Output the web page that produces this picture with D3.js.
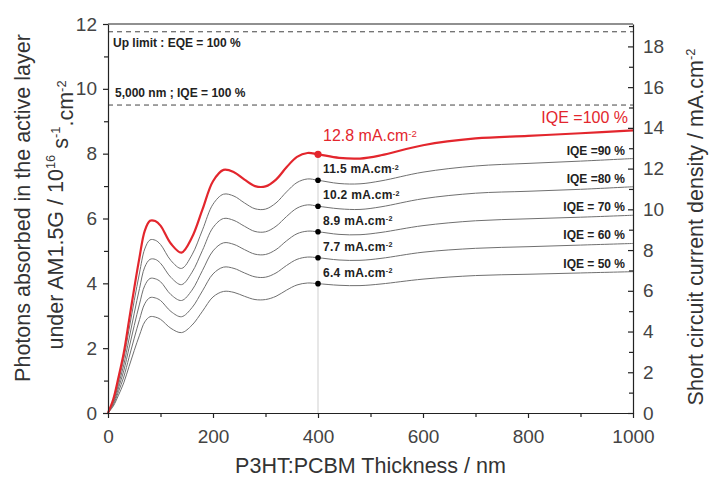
<!DOCTYPE html>
<html>
<head>
<meta charset="utf-8">
<script src="https://cdnjs.cloudflare.com/ajax/libs/d3/7.8.5/d3.min.js"></script>
<style>
body { margin: 0; background: #fff; }
text { font-family: "Liberation Sans", Arial, sans-serif; }
</style>
</head>
<body>
<div id="chart"></div>
<script>
// thickness in nm, photons absorbed in 1e16 s-1 cm-2
var thickness = [0, 10, 20, 30, 40, 50, 60, 70, 80, 90, 100, 120, 140, 160, 180, 200, 220, 240, 260, 280, 300, 320, 340, 360, 380, 400, 440, 480, 520, 600, 700, 800, 900, 1000];
var iqe100 = [0, 0.42, 1.1, 1.85, 2.85, 3.85, 4.8, 5.62, 5.93, 5.92, 5.78, 5.22, 4.95, 5.42, 6.28, 7.15, 7.5, 7.43, 7.2, 7.0, 6.99, 7.2, 7.58, 7.9, 8.02, 7.98, 7.87, 7.85, 7.95, 8.26, 8.47, 8.55, 8.63, 8.72];
var iqe90 = [0, 0.38, 0.99, 1.67, 2.57, 3.47, 4.32, 5.06, 5.34, 5.33, 5.2, 4.7, 4.46, 4.88, 5.65, 6.44, 6.75, 6.69, 6.48, 6.3, 6.29, 6.48, 6.82, 7.11, 7.22, 7.18, 7.08, 7.07, 7.16, 7.43, 7.62, 7.7, 7.77, 7.85];
var iqe80 = [0, 0.34, 0.88, 1.48, 2.28, 3.08, 3.84, 4.5, 4.74, 4.74, 4.62, 4.18, 3.96, 4.34, 5.02, 5.72, 6.0, 5.94, 5.76, 5.6, 5.59, 5.76, 6.06, 6.32, 6.42, 6.38, 6.3, 6.28, 6.36, 6.61, 6.78, 6.84, 6.9, 6.98];
var iqe70 = [0, 0.29, 0.77, 1.3, 2.0, 2.7, 3.36, 3.93, 4.15, 4.14, 4.05, 3.65, 3.47, 3.79, 4.4, 5.0, 5.25, 5.2, 5.04, 4.9, 4.89, 5.04, 5.31, 5.53, 5.61, 5.59, 5.51, 5.5, 5.57, 5.78, 5.93, 5.99, 6.04, 6.1];
var iqe60 = [0, 0.25, 0.66, 1.11, 1.71, 2.31, 2.88, 3.37, 3.56, 3.55, 3.47, 3.13, 2.97, 3.25, 3.77, 4.29, 4.5, 4.46, 4.32, 4.2, 4.19, 4.32, 4.55, 4.74, 4.81, 4.79, 4.72, 4.71, 4.77, 4.96, 5.08, 5.13, 5.18, 5.23];
var iqe50 = [0, 0.21, 0.55, 0.93, 1.43, 1.93, 2.4, 2.81, 2.97, 2.96, 2.89, 2.61, 2.48, 2.71, 3.14, 3.58, 3.75, 3.72, 3.6, 3.5, 3.5, 3.6, 3.79, 3.95, 4.01, 3.99, 3.94, 3.93, 3.98, 4.13, 4.24, 4.28, 4.32, 4.36];

var jscLabels = ["12.8", "11.5", "10.2", "8.9", "7.7", "6.4"];
var iqeLabels = ["IQE =100 %", "IQE =90 %", "IQE =80 %", "IQE = 70 %", "IQE = 60 %", "IQE = 50 %"];
var limitValues = [11.76, 9.5];
var limitLabels = ["Up limit : EQE = 100 %", "5,000 nm ; IQE = 100 %"];
var markThickness = 400;

var xTicks = [0, 200, 400, 600, 800, 1000];
var xMinor = [100, 300, 500, 700, 900];
var yTicks = [0, 2, 4, 6, 8, 10, 12];
var yMinor = [1, 3, 5, 7, 9, 11];
var y2Ticks = [0, 2, 4, 6, 8, 10, 12, 14, 16, 18];
var y2Minor = [1, 3, 5, 7, 9, 11, 13, 15, 17, 19];

(function() {
  var width = 709, height = 480;
  var mLeft = 108, mRight = 633, mTop = 24, mBottom = 413;
  var red = "#e3262d", gray = "#707070", ink = "#333";

  var svg = d3.select("#chart").append("svg")
    .attr("width", width).attr("height", height);

  var x = d3.scaleLinear().domain([0, 1000]).range([mLeft, mRight]);
  var y = d3.scaleLinear().domain([0, 12]).range([mBottom, mTop]);
  var y2 = d3.scaleLinear().domain([0, 19.1]).range([mBottom, mTop]);

  var series = [iqe100, iqe90, iqe80, iqe70, iqe60, iqe50];
  var mi = thickness.indexOf(markThickness);

  var line = d3.line()
    .x(function(d, i) { return x(thickness[i]); })
    .y(function(d) { return y(d); })
    .curve(d3.curveCatmullRom.alpha(0.5));

  // thin guide at 400 nm
  svg.append("line")
    .attr("x1", x(markThickness)).attr("x2", x(markThickness))
    .attr("y1", y(0)).attr("y2", y(iqe100[mi]))
    .attr("stroke", "#cfcfcf").attr("stroke-width", 1);

  // dashed limits
  svg.selectAll(".limit").data(limitValues).enter().append("line")
    .attr("class", "limit")
    .attr("x1", x(0)).attr("x2", x(1000))
    .attr("y1", function(d) { return y(d); }).attr("y2", function(d) { return y(d); })
    .attr("stroke", "#444").attr("stroke-width", 1).attr("stroke-dasharray", "5,4");

  svg.selectAll(".limitLabel").data(limitLabels).enter().append("text")
    .attr("x", function(d, i) { return x(0) + (i == 0 ? 5 : 7); })
    .attr("y", function(d, i) { return i == 0 ? y(limitValues[0]) + 15 : y(limitValues[1]) - 8; })
    .attr("font-size", 12).attr("font-weight", "bold").attr("fill", "#222")
    .text(function(d) { return d; });

  // curves, gray first then red on top
  svg.selectAll(".curve").data(series.slice(1)).enter().append("path")
    .attr("d", line).attr("fill", "none")
    .attr("stroke", gray).attr("stroke-width", 1);
  svg.append("path").datum(iqe100)
    .attr("d", line).attr("fill", "none")
    .attr("stroke", red).attr("stroke-width", 2.2);

  // dots at 400 nm
  svg.selectAll(".dot").data(series).enter().append("circle")
    .attr("cx", x(markThickness))
    .attr("cy", function(d) { return y(d[mi]); })
    .attr("r", function(d, i) { return i == 0 ? 3.6 : 2.8; })
    .attr("fill", function(d, i) { return i == 0 ? red : "#000"; });

  // Jsc labels
  var jl = svg.selectAll(".jsc").data(series).enter().append("text")
    .attr("x", x(markThickness) + 5)
    .attr("y", function(d, i) { return y(d[mi]) - (i == 0 ? 13 : 7); })
    .attr("font-size", function(d, i) { return i == 0 ? 16 : 12; })
    .attr("font-weight", function(d, i) { return i == 0 ? "normal" : "bold"; })
    .attr("letter-spacing", function(d, i) { return i == 0 ? 0 : 0.3; })
    .attr("fill", function(d, i) { return i == 0 ? red : "#222"; });
  jl.append("tspan").text(function(d, i) { return jscLabels[i] + " mA.cm"; });
  jl.append("tspan").attr("dy", "-0.5em").attr("font-size", "0.6em").text("-2");

  // IQE labels at right end
  svg.selectAll(".iqe").data(series).enter().append("text")
    .attr("x", function(d, i) { return x(1000) - (i == 0 ? 5 : 8); })
    .attr("y", function(d, i) { return y(d[d.length - 1]) - (i == 0 ? 7 : 4); })
    .attr("text-anchor", "end")
    .attr("font-size", function(d, i) { return i == 0 ? 16 : 12; })
    .attr("font-weight", function(d, i) { return i == 0 ? "normal" : "bold"; })
    .attr("fill", function(d, i) { return i == 0 ? red : "#222"; })
    .text(function(d, i) { return iqeLabels[i]; });

  // axes
  function style(g) {
    g.selectAll("path, line").attr("stroke", "#222").attr("stroke-width", 1.2);
    g.selectAll("text").attr("font-size", 19).attr("fill", "#444")
      .attr("font-family", "Liberation Sans, Arial, sans-serif");
  }
  svg.append("g").attr("transform", "translate(" + mLeft + ",0)")
    .call(d3.axisLeft(y).tickValues(yTicks).tickSizeInner(5).tickSizeOuter(0).tickPadding(6)).call(style);
  svg.append("g").attr("transform", "translate(" + mLeft + ",0)")
    .call(d3.axisLeft(y).tickValues(yMinor).tickSize(4).tickFormat("")).call(style)
    .select(".domain").remove();
  svg.append("g").attr("transform", "translate(0," + mBottom + ")")
    .call(d3.axisBottom(x).tickValues(xTicks).tickFormat(d3.format("d")).tickSizeInner(5).tickSizeOuter(0).tickPadding(12)).call(style);
  svg.append("g").attr("transform", "translate(0," + mBottom + ")")
    .call(d3.axisBottom(x).tickValues(xMinor).tickSize(4).tickFormat("")).call(style)
    .select(".domain").remove();
  svg.append("g").attr("transform", "translate(" + mRight + ",0)")
    .call(d3.axisRight(y2).tickValues(y2Ticks).tickSizeInner(-5).tickSizeOuter(0).tickPadding(10)).call(style);
  svg.append("g").attr("transform", "translate(" + mRight + ",0)")
    .call(d3.axisRight(y2).tickValues(y2Minor).tickSizeInner(-4).tickSizeOuter(0).tickFormat("")).call(style)
    .select(".domain").remove();
  svg.append("line").attr("x1", mLeft).attr("x2", mRight).attr("y1", mTop).attr("y2", mTop)
    .attr("stroke", "#222").attr("stroke-width", 1.2);

  // axis titles
  svg.append("text")
    .attr("x", (mLeft + mRight) / 2).attr("y", 473)
    .attr("text-anchor", "middle").attr("font-size", 21.5).attr("fill", ink)
    .text("P3HT:PCBM Thickness / nm");

  svg.append("text")
    .attr("transform", "translate(30,208) rotate(-90)")
    .attr("text-anchor", "middle").attr("font-size", 21.5).attr("fill", ink)
    .text("Photons absorbed in the active layer");

  var t2 = svg.append("text")
    .attr("transform", "translate(63,215) rotate(-90)")
    .attr("text-anchor", "middle").attr("font-size", 21.5).attr("fill", ink);
  t2.append("tspan").text("under AM1.5G / 10");
  t2.append("tspan").attr("dy", "-0.6em").attr("font-size", "0.6em").text("16");
  t2.append("tspan").attr("dy", "0.6em").text(" s");
  t2.append("tspan").attr("dy", "-0.6em").attr("font-size", "0.6em").text("-1");
  t2.append("tspan").attr("dy", "0.6em").text(".cm");
  t2.append("tspan").attr("dy", "-0.6em").attr("font-size", "0.6em").text("-2");

  var t3 = svg.append("text")
    .attr("transform", "translate(703,227) rotate(-90)")
    .attr("text-anchor", "middle").attr("font-size", 21.5).attr("fill", ink);
  t3.append("tspan").text("Short circuit current density / mA.cm");
  t3.append("tspan").attr("dy", "-0.6em").attr("font-size", "0.6em").text("-2");
})();
</script>
</body>
</html>
